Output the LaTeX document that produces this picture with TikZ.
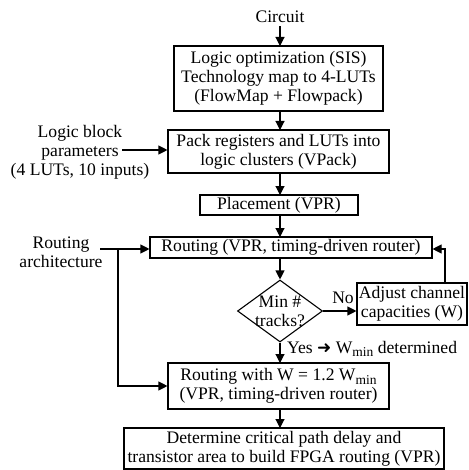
\documentclass[tikz,border=0pt]{standalone}
\usepackage{fontspec}
\setmainfont{Liberation Serif}
\newfontfamily\dingfont{DejaVu Sans}
\usetikzlibrary{arrows.meta,shapes.geometric}
\newcommand{\Wmin}{W\raisebox{-0.45ex}{\fontsize{13.5}{13.5}\selectfont min}}
\begin{document}
\begin{tikzpicture}[x=1pt,y=-1pt,
  every node/.style={font=\fontsize{17.6}{19}\selectfont, inner sep=0pt, align=center},
  stepbox/.style={draw, line width=1.1pt, rectangle},
  flow/.style={line width=1.1pt, -{Triangle[length=9pt,width=9pt]}},
  plain/.style={line width=1.1pt}]
\useasboundingbox (0,0) rectangle (468,470);

% main chain
\node (circ) at (280,17) {Circuit};
\node[stepbox, minimum width=209pt, minimum height=65pt] (b1) at (278.5,78.5)
  {Logic optimization (SIS)\\Technology map to 4-LUTs\\(FlowMap + Flowpack)};
\node[stepbox, minimum width=221pt, minimum height=43pt] (b2) at (278.5,151.5)
  {Pack registers and LUTs into\\logic clusters (VPack)};
\node[stepbox, minimum width=158pt, minimum height=20pt] (pl) at (279,205)
  {Placement (VPR)};
\node[stepbox, minimum width=282pt, minimum height=21pt] (rt) at (291,247.5)
  {Routing (VPR, timing-driven router)};
\node[draw, diamond, line width=1.1pt, minimum width=85pt, minimum height=62pt] (dm) at (280,311) {};
\node (dq) at (280,311) {Min \#\\tracks?};
\node[stepbox, minimum width=110pt, minimum height=42pt] (adj) at (412,304)
  {Adjust channel\\capacities (W)};
\node[stepbox, minimum width=221pt, minimum height=46pt] (bw) at (278.5,386)
  {Routing with W = 1.2 \Wmin\\(VPR, timing-driven router)};
\node[stepbox, minimum width=320pt, minimum height=41pt] (fin) at (284,448.5)
  {Determine critical path delay and\\transistor area to build FPGA routing (VPR)};

% side inputs
\node (lbp) at (80,152) {Logic block\\parameters\\(4 LUTs, 10 inputs)};
\coordinate (lbe) at (122,150);
\node (rarch) at (61,252) {Routing\\architecture};
\coordinate (rae) at (100,249);
\coordinate (raj) at (118,249);

% labels
\node (no) at (343,298) {No};
\node[anchor=west] (yes) at (287,349) {Yes {\dingfont\fontsize{17}{17}\selectfont ➜} \Wmin{} determined};

% connectors
\draw[flow] (circ.south -| 280,0) ++(0,3) -- (280,46);
\draw[flow] (280,111) -- (280,130);
\draw[flow] (280,173) -- (280,195);
\draw[flow] (280,215) -- (280,237);
\draw[flow] (280,258) -- (dm.north);
\draw[flow] (dm.east) -- (adj.west |- dm.east);
\draw[flow] (dm.south) -- (280,363);
\draw[flow] (280,409) -- (280,428);
\draw[flow] ([xshift=33pt]adj.north) |- (rt.east |- rae);
\draw[flow] (lbe) -- (lbe -| b2.west);
\draw[flow] (rae) -- (rae -| rt.west);
\draw[flow] (raj) |- (bw.west);
\end{tikzpicture}
\end{document}
